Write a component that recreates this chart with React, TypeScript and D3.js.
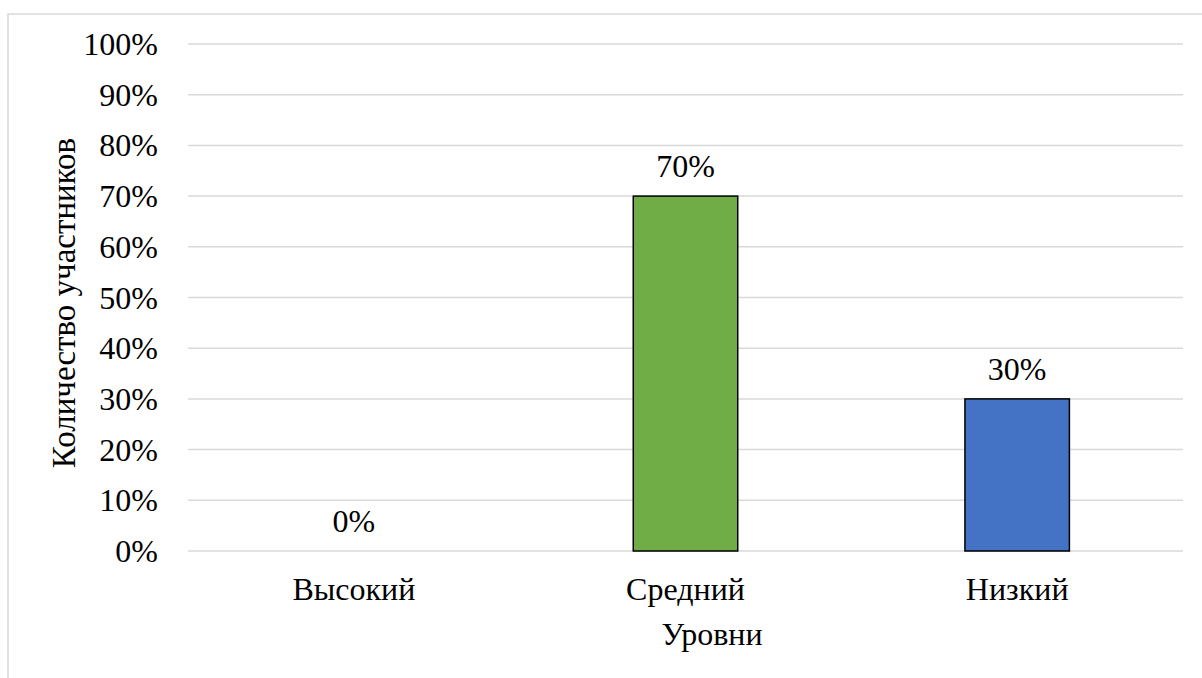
import React from "react";
import * as d3 from "d3";

const categories = ["Высокий", "Средний", "Низкий"];
const values = [0, 70, 30];
const barColors = ["#A5A5A5", "#70AD47", "#4472C4"];
const yTicks = [0, 10, 20, 30, 40, 50, 60, 70, 80, 90, 100];
const yTitle = "Количество участников";
const xTitle = "Уровни";

const W = 1202;
const H = 678;
const FONT = "'Times New Roman', 'Liberation Serif', serif";

export default function App() {
  const left = 188, right = 1183, top = 44, bottom = 551;
  const x = d3.scaleBand<string>().domain(categories).range([left, right]).paddingInner(0.685).paddingOuter(0.3425);
  const y = d3.scaleLinear().domain([0, 100]).range([bottom, top]);
  const bw = x.bandwidth();
  const fs = 32;
  return (
    <svg width={W} height={H} style={{ position: "absolute", left: 0, top: 0, fontFamily: FONT }}>
      <rect x={8} y={14} width={W} height={H} fill="white" stroke="#D9D9D9" strokeWidth={1.5} />
      {yTicks.map((t) => (
        <g key={t}>
          <line x1={left} x2={right} y1={y(t)} y2={y(t)} stroke="#D9D9D9" strokeWidth={1.5} />
          <text x={158} y={y(t) + 11} textAnchor="end" fontSize={fs} fill="#000">{t}%</text>
        </g>
      ))}
      {categories.map((c, i) => (
        <g key={c}>
          {values[i] > 0 && (
            <rect x={x(c)!} y={y(values[i])} width={bw} height={y(0) - y(values[i])} fill={barColors[i]} stroke="#000" strokeWidth={1.5} />
          )}
          <text x={x(c)! + bw / 2} y={y(values[i]) - 19} textAnchor="middle" fontSize={fs} fill="#000">{values[i]}%</text>
          <text x={x(c)! + bw / 2} y={600} textAnchor="middle" fontSize={fs} fill="#000">{c}</text>
        </g>
      ))}
      <text x={712} y={645} textAnchor="middle" fontSize={fs} fill="#000">{xTitle}</text>
      <text transform={`translate(75,303) rotate(-90)`} textAnchor="middle" fontSize={33} fill="#000">{yTitle}</text>
    </svg>
  );
}
